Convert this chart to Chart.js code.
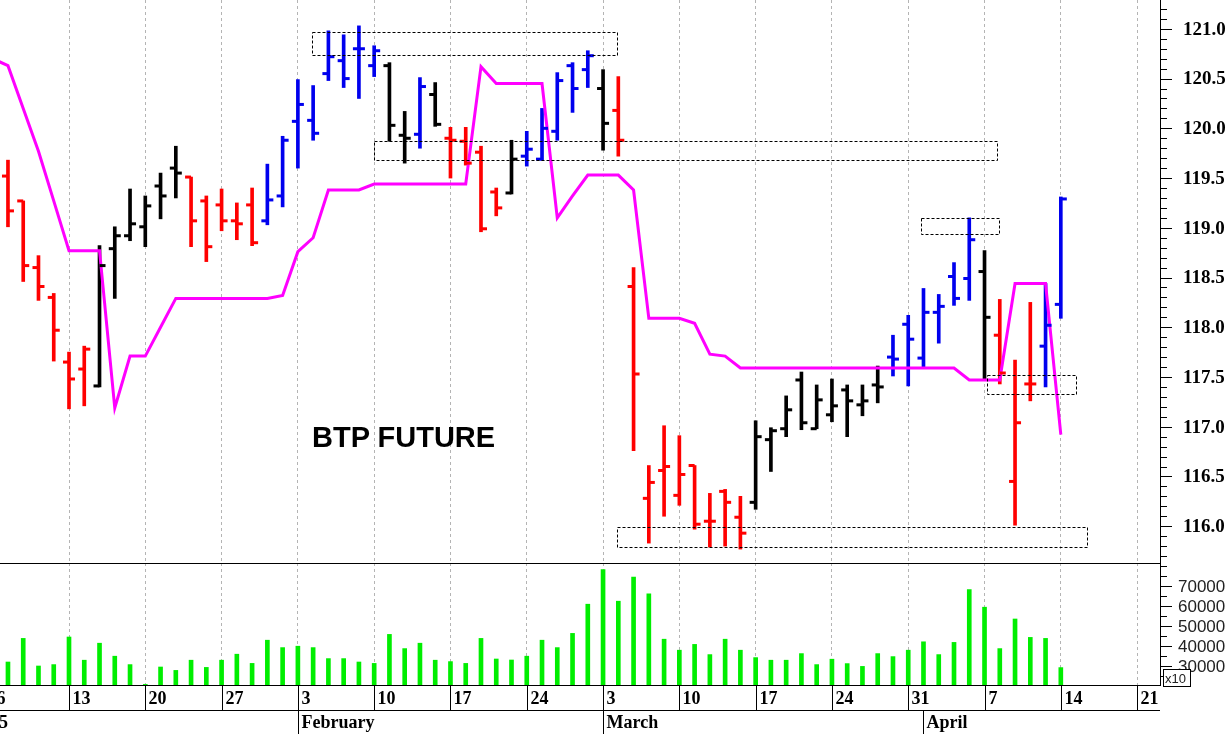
<!DOCTYPE html>
<html><head><meta charset="utf-8">
<script src="https://cdn.jsdelivr.net/npm/chart.js@4/dist/chart.umd.min.js"></script>
<style>
body{margin:0;background:#fff;width:1231px;height:734px;overflow:hidden;position:relative}
#a{position:absolute;left:0;top:0}
#b{position:absolute;left:0;top:563px}
#title{position:absolute;left:312px;top:421px;font:bold 29px "Liberation Sans",Arial,sans-serif;color:#000}
</style></head><body>
<canvas id="a" width="1231" height="563"></canvas>
<canvas id="b" width="1231" height="171"></canvas>
<div id="title">BTP FUTURE</div>
<script>
// trading-day index 0 = Mon 6 Jan 2025; bars are days 1..70
const opens=[119.52,119.27,118.6,118.3,117.65,117.58,117.41,118.79,118.92,119.01,119.42,119.60,119.51,119.27,119.23,119.07,119.23,119.07,119.32,120.07,120.08,120.55,120.68,120.80,120.63,120.63,119.93,119.94,120.34,119.90,119.87,119.76,119.36,119.35,119.72,119.69,119.97,120.63,120.59,120.40,120.18,118.41,116.28,116.56,116.31,116.61,116.05,116.35,116.09,116.24,116.87,116.98,117.47,116.98,117.12,117.37,117.22,117.42,117.70,118.03,117.69,118.15,118.51,118.49,118.56,117.92,116.45,117.43,117.81,118.23];
const highs=[119.68,119.27,118.72,118.34,117.75,117.81,118.82,119.01,119.39,119.32,119.55,119.82,119.51,119.32,119.39,119.25,119.40,119.64,119.92,120.49,120.43,120.98,120.94,121.03,120.83,120.66,120.17,120.51,120.46,120.01,120.01,119.82,119.40,119.88,119.97,120.20,120.56,120.66,120.78,120.59,120.52,118.60,116.61,117.01,116.91,116.61,116.33,116.37,116.30,117.06,116.99,117.31,117.55,117.42,117.48,117.42,117.42,117.61,117.92,118.12,118.39,118.33,118.65,119.10,118.77,118.28,117.67,118.25,118.44,119.31];
const lows=[119.01,118.46,118.27,117.66,117.18,117.21,117.40,118.29,118.87,118.81,119.09,119.30,118.81,118.66,118.97,118.88,118.82,119.03,119.21,119.60,119.88,120.48,120.41,120.30,120.52,119.87,119.65,119.80,120.02,119.50,119.63,118.96,119.12,119.34,119.62,119.68,119.88,120.16,120.41,119.78,119.72,116.76,115.83,116.10,116.21,115.97,115.79,115.80,115.77,116.17,116.55,116.90,116.97,116.98,117.05,116.90,117.11,117.24,117.51,117.41,117.60,117.84,118.22,118.27,117.48,117.43,116.01,117.26,117.40,118.09];
const closes=[119.17,118.62,118.41,117.97,117.48,117.78,118.62,118.92,119.04,119.22,119.32,119.55,119.07,118.81,119.07,119.04,118.85,119.28,119.88,120.24,119.95,120.72,120.50,120.80,120.78,120.03,119.90,120.42,120.04,119.88,119.65,118.99,119.20,119.69,119.79,120.00,120.48,120.40,120.73,120.05,119.88,117.53,116.44,116.60,116.52,116.02,116.05,116.24,115.93,116.90,116.96,117.17,117.04,117.27,117.21,117.26,117.26,117.40,117.68,117.88,118.15,118.21,118.29,118.88,118.10,117.54,117.04,117.43,118.02,119.29];
const trend="ddddddnnnnnudddddhhhhhhhhnnhnddddnhhhhhndddddddddnnnnnnnnnhhhhhhndddhh".split('');
// stop line, days 0..70
const stopLine=[120.70,120.63,120.20,119.77,119.27,118.77,118.77,118.77,117.19,117.71,117.71,118.00,118.29,118.29,118.29,118.29,118.29,118.29,118.29,118.32,118.76,118.90,119.38,119.38,119.38,119.44,119.44,119.44,119.44,119.44,119.44,119.44,120.62,120.45,120.45,120.45,120.45,119.10,119.32,119.53,119.53,119.53,119.38,118.09,118.09,118.09,118.04,117.73,117.71,117.59,117.59,117.59,117.59,117.59,117.59,117.59,117.59,117.59,117.59,117.59,117.59,117.59,117.59,117.59,117.47,117.47,117.47,118.44,118.44,118.44,116.92];
const volumes=[32000,43800,30000,30700,44500,32900,41400,34900,30700,20800,29500,27800,32900,29300,32900,35900,31300,42900,39200,39900,39200,33700,33700,32000,31300,45800,38700,41400,32900,32200,31300,43800,33500,33000,34900,42900,39200,46300,60900,78200,62400,74500,66100,43400,37900,40800,35700,43400,37900,34200,32900,32900,36200,30700,33400,31200,29800,36200,34700,37900,42100,35700,41800,68200,59400,38700,53500,44300,43800,29200];
// dashed zones
const zoneFrom=[20.95,25.0,60.85,65.15,40.9];
const zoneTo=[40.9,65.8,65.95,71.0,71.7];
const zoneLow=[120.74,119.68,118.94,117.33,115.79];
const zoneHigh=[120.97,119.87,119.10,117.52,115.99];
// weekly ticks (Mondays, day index 0,5,...,75)
const dayLabels=['6','13','20','27','3','10','17','24','3','10','17','24','31','7','14','21'];
const monthLabels=['25','February','March','April'];
const monthStart=[-0.3,20,40,61];
const priceTicks=[116.0,116.5,117.0,117.5,118.0,118.5,119.0,119.5,120.0,120.5,121.0];
const volTicks=[30000,40000,50000,60000,70000];

const XMIN=0.478, XMAX=76.5;
const colOf={d:'#ff0000',n:'#000000',h:'#0000ee'};
const days=opens.map((_,i)=>i+1);
const mondays=dayLabels.map((_,i)=>i*5);
Chart.defaults.animation=false;
const xScale=()=>({type:'linear',offset:false,min:XMIN,max:XMAX,
  grid:{display:true,offset:false,color:'#b4b4b4',lineWidth:1,drawTicks:false},
  border:{display:false,dash:[3,3]},ticks:{display:false},
  afterBuildTicks:s=>{s.ticks=mondays.map(v=>({value:v}));}});

function drawAxis(ctx,c,minorStep,majors,fmt,font,color,labelX){
  const ys=c.scales.y,r=c.chartArea.right,a=c.chartArea;
  ctx.save();ctx.strokeStyle='#000';ctx.lineWidth=1;
  const lo=Math.ceil(ys.min/minorStep-1e-6),hi=Math.floor(ys.max/minorStep+1e-6);
  for(let k=lo;k<=hi;k++){const v=k*minorStep;const y=Math.round(ys.getPixelForValue(v))+0.5;
    if(y<a.top||y>a.bottom+1)continue;
    const major=majors.some(m=>Math.abs(m-v)<minorStep/10);
    ctx.beginPath();ctx.moveTo(r,y);ctx.lineTo(r+(major?12:7),y);ctx.stroke();}
  ctx.font=font;ctx.fillStyle=color;ctx.textAlign='left';ctx.textBaseline='middle';
  majors.forEach(m=>ctx.fillText(fmt(m),labelX,ys.getPixelForValue(m)+1));
  ctx.restore();}

const ohlcPlugin={id:'ohlc',afterDatasetsDraw(c){
  const ctx=c.ctx,xs=c.scales.x,ys=c.scales.y;
  ctx.save();ctx.lineWidth=3;
  days.forEach((d,i)=>{const x=xs.getPixelForValue(d);ctx.strokeStyle=colOf[trend[i]];
    let y=ys.getPixelForValue(opens[i]);ctx.beginPath();ctx.moveTo(x-6,y);ctx.lineTo(x,y);ctx.stroke();
    y=ys.getPixelForValue(closes[i]);ctx.beginPath();ctx.moveTo(x,y);ctx.lineTo(x+6,y);ctx.stroke();});
  ctx.lineWidth=1;ctx.strokeStyle='#000';ctx.setLineDash([3,2]);
  zoneFrom.forEach((f,i)=>{const x1=Math.round(xs.getPixelForValue(f))+0.5,x2=Math.round(xs.getPixelForValue(zoneTo[i]))+0.5;
    const y1=Math.round(ys.getPixelForValue(zoneHigh[i]))+0.5,y2=Math.round(ys.getPixelForValue(zoneLow[i]))+0.5;
    ctx.strokeRect(x1,y1,x2-x1,y2-y1);});
  ctx.restore();
  drawAxis(ctx,c,0.1,priceTicks,v=>v.toFixed(1),'bold 19px "Liberation Serif",serif','#000',1183);
}};

new Chart(document.getElementById('a'),{
  data:{datasets:[
    {type:'bar',data:days.map((d,i)=>({x:d,y:[lows[i],highs[i]]})),backgroundColor:trend.map(t=>colOf[t]),barThickness:3,borderWidth:0,order:2},
    {type:'line',data:stopLine.map((v,i)=>({x:i,y:v})),borderColor:'#ff00ff',borderWidth:3,pointRadius:0,tension:0,order:1}
  ]},
  options:{responsive:false,devicePixelRatio:1,layout:{padding:0},
    plugins:{legend:{display:false},tooltip:{enabled:false}},
    scales:{
      x:xScale(),
      y:{position:'right',min:115.63,max:121.29,afterFit:s=>{s.width=71;},
        grid:{drawOnChartArea:false,drawTicks:false},border:{display:true,color:'#000'},ticks:{display:false}}
    }},
  plugins:[ohlcPlugin]
});

const volPlugin={id:'vol',afterDraw(c){
  const ctx=c.ctx,xs=c.scales.x,a=c.chartArea;
  ctx.save();ctx.strokeStyle='#000';ctx.lineWidth=1;
  const line=(x1,y1,x2,y2)=>{ctx.beginPath();ctx.moveTo(x1,y1);ctx.lineTo(x2,y2);ctx.stroke();};
  line(0,a.top+0.5,a.right,a.top+0.5);
  line(0,a.bottom+0.5,a.right,a.bottom+0.5);
  line(0,a.bottom+25.5,a.right,a.bottom+25.5);
  ctx.font='bold 18px "Liberation Serif",serif';ctx.fillStyle='#000';ctx.textBaseline='middle';ctx.textAlign='left';
  mondays.forEach((m,i)=>{const x=Math.round(xs.getPixelForValue(m))+0.5;line(x,a.bottom,x,a.bottom+26);
    ctx.fillText(dayLabels[i],x+3,a.bottom+14);});
  monthStart.forEach((m,i)=>{const x=Math.round(xs.getPixelForValue(m))+0.5;
    if(i>0)line(x,a.bottom+26,x,a.bottom+50);
    if(i===0){ctx.textAlign='right';ctx.fillText(monthLabels[i],8,a.bottom+38);}
    else{ctx.textAlign='left';ctx.fillText(monthLabels[i],x+3,a.bottom+38);}});
  ctx.restore();
  drawAxis(ctx,c,5000,volTicks,v=>String(v),'17px "Liberation Sans",sans-serif','#222',1178);
  ctx.save();ctx.strokeStyle='#000';
  ctx.fillStyle='#fff';ctx.fillRect(a.right+3,a.bottom-15,27,17);ctx.strokeRect(a.right+3.5,a.bottom-15.5,27,17);
  ctx.fillStyle='#222';ctx.font='13px "Liberation Sans",sans-serif';ctx.textAlign='left';ctx.textBaseline='middle';ctx.fillText('x10',a.right+5,a.bottom-6);
  ctx.restore();}};

const xb=xScale();xb.afterFit=s=>{s.height=49;};
new Chart(document.getElementById('b'),{
  data:{datasets:[{type:'bar',data:days.map((d,i)=>({x:d,y:volumes[i]})),backgroundColor:'#00ee00',barThickness:4,borderWidth:0}]},
  options:{responsive:false,devicePixelRatio:1,layout:{padding:0},
    plugins:{legend:{display:false},tooltip:{enabled:false}},
    scales:{
      x:xb,
      y:{position:'right',min:20500,max:81500,afterFit:s=>{s.width=71;},
        grid:{drawOnChartArea:false,drawTicks:false},border:{display:true,color:'#000'},ticks:{display:false}}
    }},
  plugins:[volPlugin]
});
</script></body></html>
